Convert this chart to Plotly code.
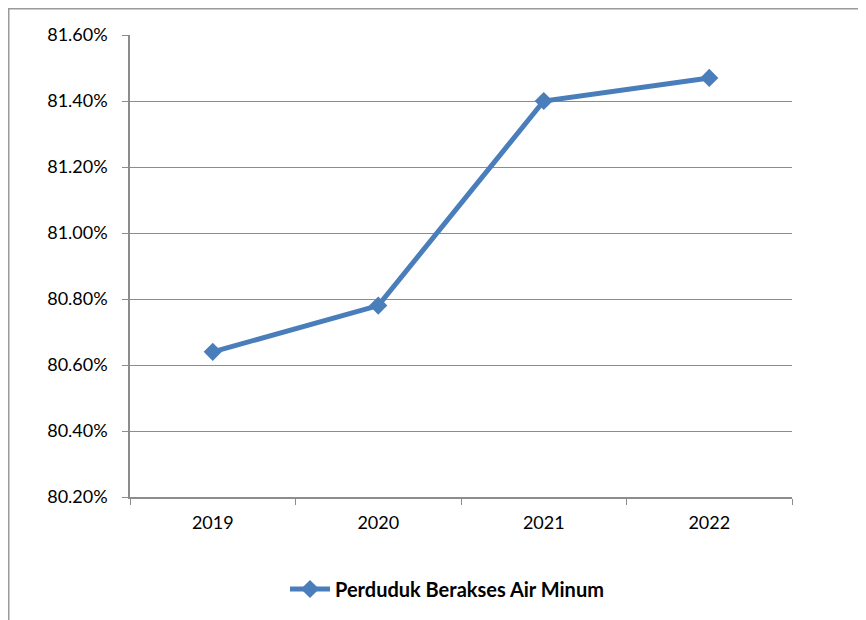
import plotly.graph_objects as go

years = ["2019", "2020", "2021", "2022"]
values = [80.64, 80.78, 81.40, 81.47]
series_name = "Perduduk Berakses Air Minum"

# page has an 8px body margin; figure sized to fit the window
L, T = 122, 27
pw, ph = 662, 462
W, H = 858, 612
R, B = W - L - pw, H - T - ph

fig = go.Figure()
fig.add_trace(go.Scatter(
    x=years, y=values, mode="lines+markers", name=series_name,
    line=dict(color="#4A7EBB", width=5),
    marker=dict(symbol="diamond", size=14, color="#4A7EBB"),
))

grid = "#8C8C8C"
fig.update_layout(
    width=W, height=H,
    margin=dict(l=L, r=R, t=T, b=B),
    paper_bgcolor="white", plot_bgcolor="white",
    font=dict(family="Lato, Open Sans, sans-serif", size=18, color="#000000"),
    showlegend=True,
    legend=dict(
        x=(439 - L) / pw, xanchor="center",
        y=(489 - 581) / ph, yanchor="middle",
        orientation="h",
        font=dict(size=20, family="Lato, Open Sans, sans-serif", weight="bold"),
        itemwidth=40,
    ),
    xaxis=dict(
        type="category", tickson="boundaries", ticks="outside", ticklen=6,
        tickcolor=grid, showline=True, linecolor=grid, linewidth=1.5,
        showgrid=False, range=[-0.5, 3.5], fixedrange=True,
        ticklabelstandoff=9,
    ),
    yaxis=dict(
        range=[80.20, 81.60], dtick=0.2, tick0=80.2, tickformat=".2f",
        ticksuffix="%", ticks="outside", ticklen=6, tickcolor=grid,
        showline=True, linecolor=grid, linewidth=1.5,
        showgrid=True, gridcolor=grid, gridwidth=1.2, zeroline=False,
        ticklabelstandoff=11,
    ),
    shapes=[dict(
        type="rect", xref="paper", yref="paper",
        x0=(0.75 - L) / pw, x1=(W + 40 - L) / pw,
        y0=-(B + 40) / ph, y1=1 + (T - 0.75) / ph,
        line=dict(color="#9A9A9A", width=1.5), layer="below",
    )],
)

fig.write_html("out.html")
